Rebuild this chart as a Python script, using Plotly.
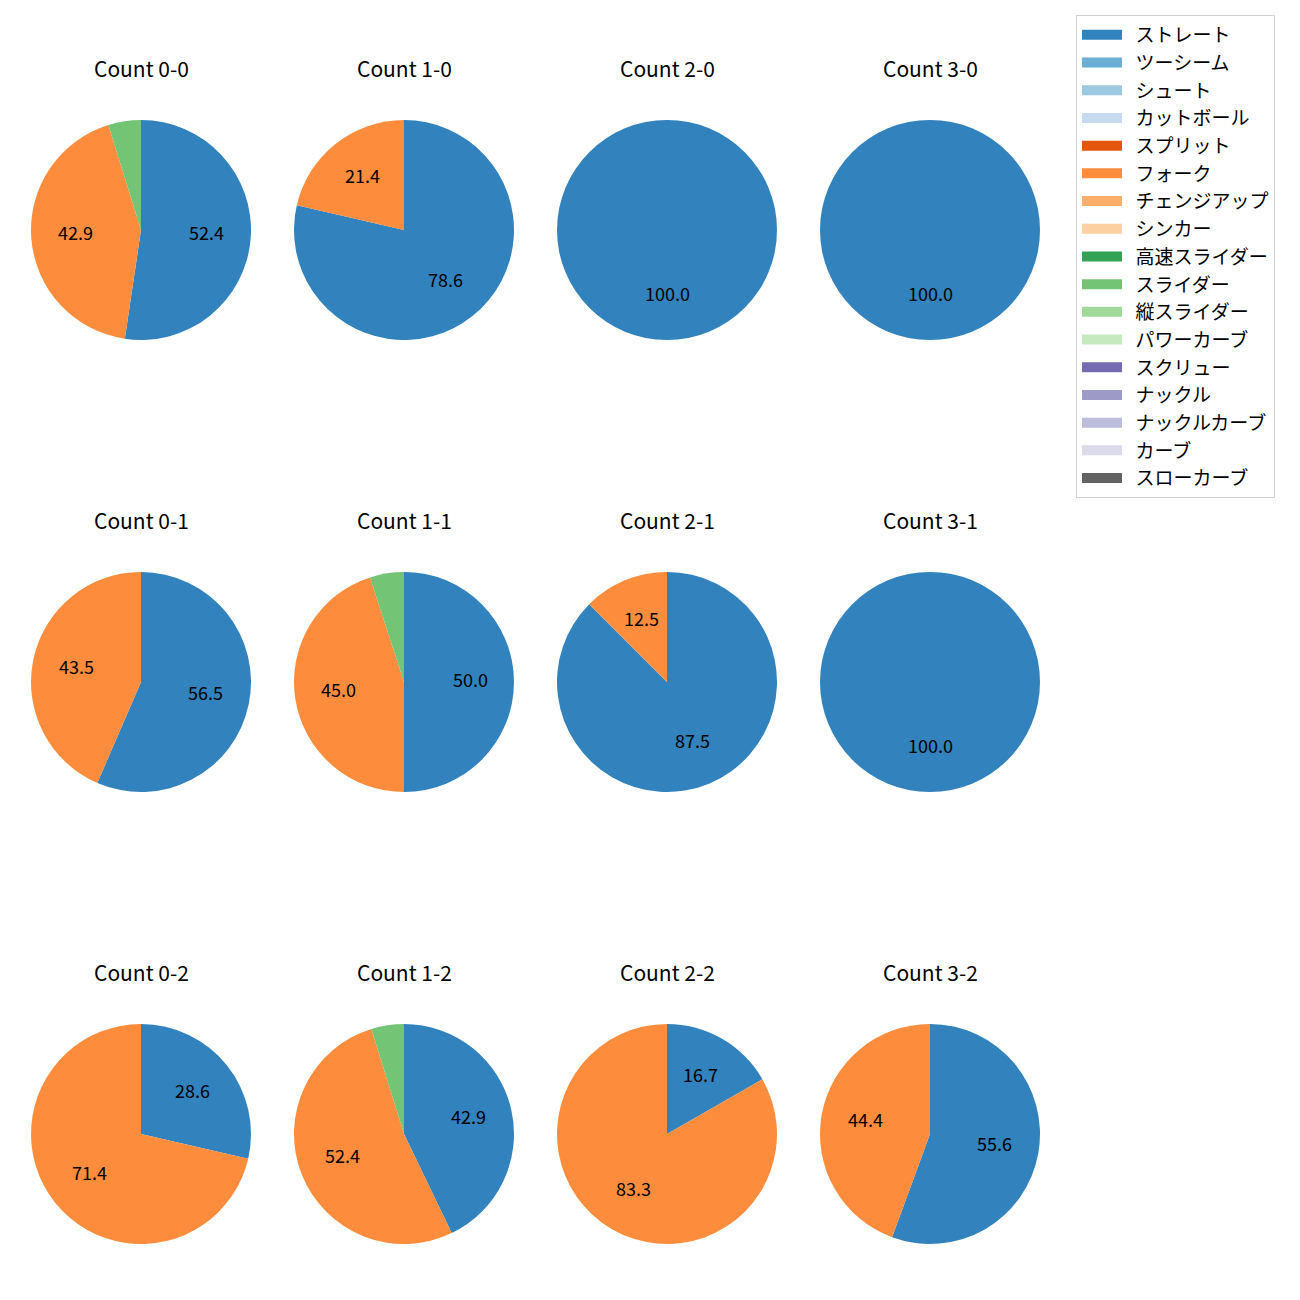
import math
import plotly.graph_objects as go

pitch_types = ["ストレート", "ツーシーム", "シュート", "カットボール", "スプリット", "フォーク",
               "チェンジアップ", "シンカー", "高速スライダー", "スライダー", "縦スライダー",
               "パワーカーブ", "スクリュー", "ナックル", "ナックルカーブ", "カーブ", "スローカーブ"]
colors = ["#3182bd", "#6baed6", "#9ecae1", "#c6dbef", "#e6550d", "#fd8d3c", "#fdae6b", "#fdd0a2",
          "#31a354", "#74c476", "#a1d99b", "#c7e9c0", "#756bb1", "#9e9ac8", "#bcbddc", "#dadaeb", "#636363"]

counts = ["0-0", "1-0", "2-0", "3-0",
          "0-1", "1-1", "2-1", "3-1",
          "0-2", "1-2", "2-2", "3-2"]

# percentages per count
straight = [52.4, 78.6, 100.0, 100.0, 56.5, 50.0, 87.5, 100.0, 28.6, 42.9, 16.7, 55.6]
fork     = [42.9, 21.4, 0.0, 0.0, 43.5, 45.0, 12.5, 0.0, 71.4, 52.4, 83.3, 44.4]
slider   = [4.8, 0.0, 0.0, 0.0, 0.0, 5.0, 0.0, 0.0, 0.0, 4.8, 0.0, 0.0]

W = H = 1300
OFF = 8  # browser body margin
col_cx = [141 - OFF, 404 - OFF, 667 - OFF, 930 - OFF]
row_cy = [230 - OFF, 682 - OFF, 1134 - OFF]
title_y = [69 - OFF, 521 - OFF, 973 - OFF]
R = 110

FONT = "Noto Sans CJK JP"

fig = go.Figure()
annotations = []

for k, cnt in enumerate(counts):
    r, c = divmod(k, 4)
    cx, cy = col_cx[c], row_cy[r]
    vals = [0.0] * len(pitch_types)
    vals[pitch_types.index("ストレート")] = straight[k]
    vals[pitch_types.index("フォーク")] = fork[k]
    vals[pitch_types.index("スライダー")] = slider[k]
    fig.add_trace(go.Pie(
        labels=pitch_types, values=vals, sort=False, direction="clockwise", rotation=0,
        marker=dict(colors=colors, line=dict(width=0)),
        textinfo="none", hoverinfo="label+percent", showlegend=False,
        domain=dict(x=[(cx - R) / W, (cx + R) / W], y=[1 - (cy + R) / H, 1 - (cy - R) / H]),
    ))
    annotations.append(dict(text=f"Count {cnt}", x=cx / W, y=1 - title_y[r] / H,
                            xref="paper", yref="paper", showarrow=False,
                            xanchor="center", yanchor="middle", yshift=1,
                            font=dict(size=21, color="black", family=FONT)))
    total = sum(vals)
    cum = 0.0
    for v in vals:
        if v <= 0:
            continue
        mid = (cum + v / 2) / total
        cum += v
        if v < 10:
            continue
        th = math.radians(90 - 360 * mid)
        px = cx + 0.6 * R * math.cos(th)
        py = cy - 0.6 * R * math.sin(th)
        annotations.append(dict(text=f"{v:.1f}", x=px / W, y=1 - py / H,
                                xref="paper", yref="paper", showarrow=False,
                                xanchor="center", yanchor="middle", yshift=3,
                                font=dict(size=18, color="black", family=FONT)))

# legend entries
for i, (name, col) in enumerate(zip(pitch_types, colors)):
    fig.add_trace(go.Scatter(x=[None], y=[None], mode="lines", name="\u00a0\u00a0" + name,
                             line=dict(color=col, width=14), legendgroup=f"g{i}",
                             showlegend=True))

fig.update_layout(
    width=W, height=H, margin=dict(l=0, r=0, t=0, b=0),
    paper_bgcolor="white", plot_bgcolor="white",
    font=dict(family=FONT, size=18, color="black"),
    xaxis=dict(visible=False), yaxis=dict(visible=False),
    annotations=annotations,
    legend=dict(x=(1076 - OFF) / W, y=1 - (15 - OFF) / H, xanchor="left", yanchor="top",
                bordercolor="#d0d0d0", borderwidth=1, bgcolor="white",
                font=dict(size=19, family=FONT), tracegroupgap=0, itemwidth=40),
)

fig.write_html("out.html")
